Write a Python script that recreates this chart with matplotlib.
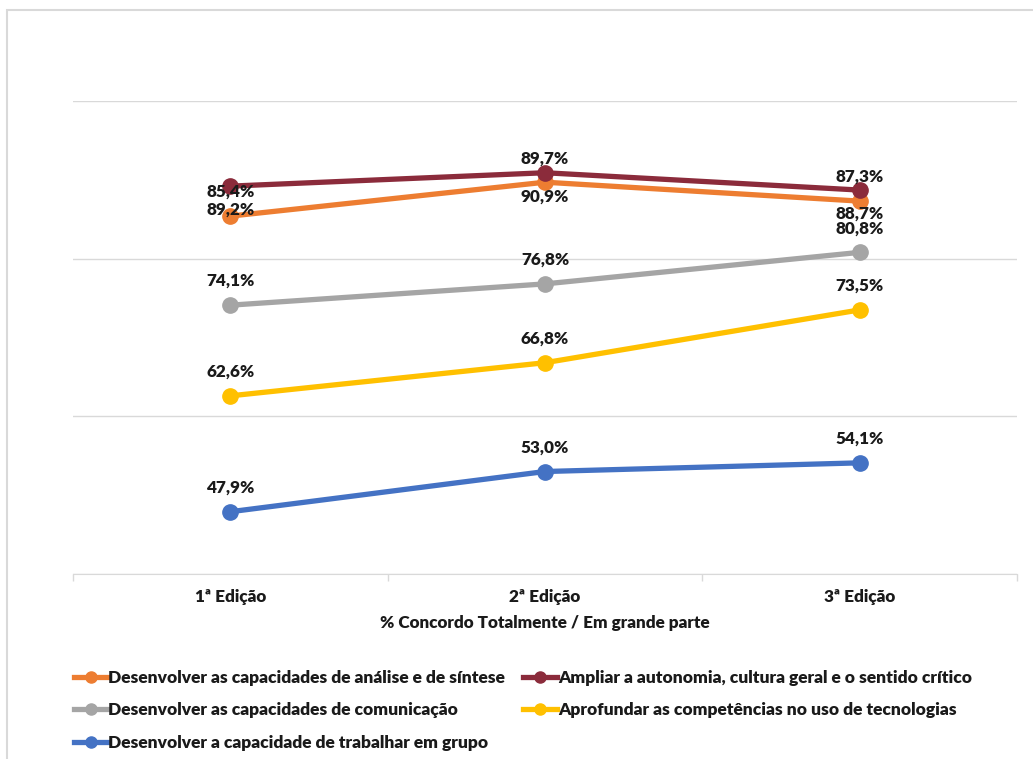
import matplotlib
matplotlib.use("Agg")
import matplotlib.pyplot as plt
from matplotlib.patches import Rectangle
from matplotlib.lines import Line2D

plt.rcParams['font.family'] = ['Lato', 'DejaVu Sans']

editions = ["1ª Edição", "2ª Edição", "3ª Edição"]

analise = [85.4, 89.7, 87.3]
autonomia = [89.2, 90.9, 88.7]
comunicacao = [74.1, 76.8, 80.8]
tecnologias = [62.6, 66.8, 73.5]
grupo = [47.9, 53.0, 54.1]

names = [
    "Desenvolver as capacidades de análise e de síntese",
    "Ampliar a autonomia, cultura geral e o sentido crítico",
    "Desenvolver as capacidades de comunicação",
    "Aprofundar as competências no uso de tecnologias",
    "Desenvolver a capacidade de trabalhar em grupo",
]
colors = ["#ED7D31", "#8B2B3B", "#A5A5A5", "#FFC000", "#4472C4"]
series = [analise, autonomia, comunicacao, tecnologias, grupo]
# label above (+) or below (-) the point
label_pos = [1, -1, 1, 1, 1]

fig = plt.figure(figsize=(10.33, 7.59), dpi=100)
ax = fig.add_axes([73 / 1033, 1 - 574 / 759, 944 / 1033, 473 / 759])

# chart border (light grey frame)
fig.patches.append(Rectangle((7 / 1033, -0.1), 1.2, 1.1 - 10 / 759,
                             transform=fig.transFigure, fill=False,
                             edgecolor="#D9D9D9", linewidth=1.5, zorder=0))

x = range(len(editions))
handles = []
for vals, name, c, pos in zip(series, names, colors, label_pos):
    ax.plot(x, vals, color=c, linewidth=3.8, marker="o", markersize=11,
            solid_capstyle="round", zorder=3)
    handles.append(Line2D([0], [0], color=c, linewidth=3.8, marker="o",
                          markersize=8))
    for xi, v in zip(x, vals):
        txt = f"{v:.1f}%".replace(".", ",")
        ax.annotate(txt, (xi, v), xytext=(0, 24 * pos), textcoords="offset pixels",
                    ha="center", va="center", fontsize=12.3, fontweight="heavy",
                    color="#1A1A1A", zorder=4)

ax.set_xlim(-0.5, 2.5)
ax.set_ylim(40, 100)
ax.set_yticks([40, 60, 80, 100])
ax.yaxis.grid(True, color="#D9D9D9", linewidth=1)
ax.tick_params(axis="y", left=False, labelleft=False)
ax.set_xticks(list(x))
ax.set_xticklabels(editions, fontsize=12.3, fontweight="heavy", color="#1A1A1A")
ax.set_xticks([-0.5, 0.5, 1.5, 2.5], minor=True)
ax.tick_params(axis="x", which="major", length=0, pad=11)
ax.tick_params(axis="x", which="minor", length=5, color="#D9D9D9", width=1)
ax.set_xlabel("% Concordo Totalmente / Em grande parte", fontsize=12.3,
              fontweight="heavy", color="#1A1A1A", labelpad=7)
for s in ["top", "right", "left"]:
    ax.spines[s].set_visible(False)
ax.spines["bottom"].set_color("#D9D9D9")
ax.set_axisbelow(True)

order = [0, 2, 4, 1, 3]
fig.legend([handles[i] for i in order], [names[i] for i in order],
           loc="upper left", bbox_to_anchor=(58 / 1033, 1 - 654 / 759),
           ncol=2, frameon=False, handlelength=1.95, handletextpad=0.05,
           columnspacing=1.05, labelspacing=0.95,
           prop={"size": 12.5, "weight": "heavy"}, labelcolor="#1A1A1A")

fig.savefig("out.png", dpi=100, facecolor="white")
